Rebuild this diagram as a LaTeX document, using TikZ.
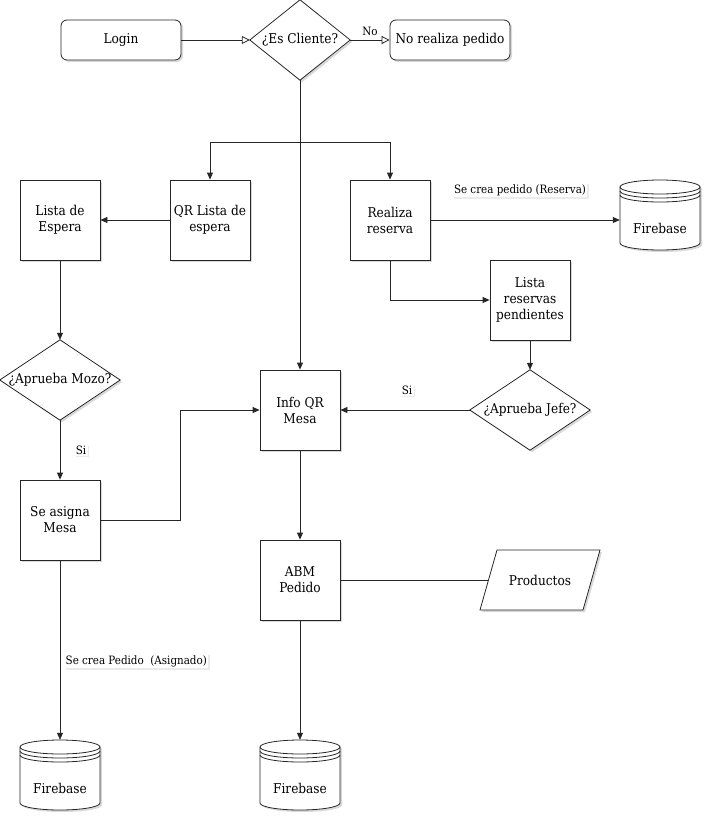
\documentclass[tikz,border=0pt]{standalone}
\usepackage{fontspec}
\IfFontExistsTF{DejaVu Serif Condensed}{\setmainfont{DejaVu Serif Condensed}}{\setmainfont{DejaVu Serif}}
\usetikzlibrary{arrows.meta,shadows,calc}
\pgfdeclarelayer{background}
\pgfsetlayers{background,main}
\tikzset{
  ln/.style={line width=0.8pt, draw=black!85},
  shadowed/.style={drop shadow={shadow xshift=2pt, shadow yshift=-2pt, fill=black, opacity=0.15}},
  box/.style={ln, fill=white, minimum width=80pt, minimum height=80pt, align=center, inner sep=1pt, shadowed},
  rbox/.style={box, rounded corners=6pt, minimum width=120pt, minimum height=40pt},
  dmdbox/.style={draw=none, inner sep=0pt, minimum height=80pt, align=center},
  dbbox/.style={draw=none, inner sep=0pt, minimum width=80pt, minimum height=70pt},
  conn/.style={ln, -{Triangle[length=7pt,width=6pt]}},
  openconn/.style={ln, -{Triangle[open,length=8pt,width=8pt]}},
  plain/.style={ln},
  lbl/.style={font=\fontsize{11.5}{13}\selectfont, fill=white, inner sep=1.5pt},
  lblsh/.style={lbl, drop shadow={shadow xshift=1.5pt, shadow yshift=-1.5pt, fill=black, opacity=0.08}}
}
\newcommand\mydiam[1]{%
  \begin{pgfonlayer}{background}
  \fill[black, opacity=0.15] ($(#1.north)+(2,2)$) -- ($(#1.east)+(2,2)$) -- ($(#1.south)+(2,2)$) -- ($(#1.west)+(2,2)$) -- cycle;
  \draw[ln, fill=white] (#1.north) -- (#1.east) -- (#1.south) -- (#1.west) -- cycle;
  \end{pgfonlayer}}
\newcommand\fbase[3]{%
  \begin{scope}[shift={(#2,#3)}]
    \fill[black, opacity=0.15, shift={(2,2)}] (-40,-28) -- (-40,28) arc[start angle=180, end angle=360, x radius=40pt, y radius=7pt] -- (40,-28) arc[start angle=0, end angle=180, x radius=40pt, y radius=7pt] -- cycle;
    \draw[ln, fill=white] (-40,-28) -- (-40,28) arc[start angle=180, end angle=360, x radius=40pt, y radius=7pt] -- (40,-28) arc[start angle=0, end angle=180, x radius=40pt, y radius=7pt] -- cycle;
    \draw[ln] (-40,-28) arc[start angle=180, end angle=360, x radius=40pt, y radius=7pt];
    \draw[ln] (-40,-24) arc[start angle=180, end angle=360, x radius=40pt, y radius=7pt];
    \draw[ln] (-40,-20) arc[start angle=180, end angle=360, x radius=40pt, y radius=7pt];
  \end{scope}
  \node[dbbox] (#1) at (#2,#3) {};
  \node (#1t) at (#2,#3+13) {Firebase};}
\begin{document}
\begin{tikzpicture}[x=1pt, y=-1pt, font=\fontsize{13.5}{16}\selectfont]
\useasboundingbox (0,0) rectangle (712,822);

% nodes
\node[rbox] (login) at (121,40) {Login};
\node[dmdbox, minimum width=100pt] (esc) at (300,40) {¿Es Cliente?};
\mydiam{esc}
\node[rbox] (nrp) at (450,40) {No realiza pedido};
\node[box] (lesp) at (60,220) {Lista de\\Espera};
\node[box] (qr) at (210,220) {QR Lista de\\espera};
\node[box] (rr) at (390,220) {Realiza\\reserva};
\fbase{fb1}{660}{215}
\node[box] (lrp) at (530,300) {Lista\\reservas\\pendientes};
\node[dmdbox, minimum width=120pt] (mozo) at (60,380) {¿Aprueba Mozo?};
\mydiam{mozo}
\node[box] (info) at (300,410) {Info QR\\Mesa};
\node[dmdbox, minimum width=120pt] (jefe) at (530,410) {¿Aprueba Jefe?};
\mydiam{jefe}
\node[box] (asig) at (60,520) {Se asigna\\Mesa};
\node[box] (abm) at (300,580) {ABM\\Pedido};
\fill[black, opacity=0.15, shift={(2,2)}] (480,610) -- (497,550) -- (600,550) -- (583,610) -- cycle;
\draw[ln, fill=white] (480,610) -- (497,550) -- (600,550) -- (583,610) -- cycle;
\node[draw=none, minimum width=103pt, minimum height=60pt, inner sep=0pt] (prod) at (540,580) {Productos};
\fbase{fb2}{60}{775}
\fbase{fb3}{300}{775}

% connectors
\draw[openconn] (login.east) -- (esc.west);
\draw[openconn] (esc.east) -- (nrp.west);
\node[lbl, fill=none] (lno) at (370,31) {No};
\coordinate (br) at (300,142);
\draw[conn] (esc.south) -- (info.north);
\draw[conn] (br) -| (qr.north);
\draw[conn] (br) -| (rr.north);
\draw[conn] (qr.west) -- (lesp.east);
\draw[conn] (rr.east) -- (rr.east -| fb1.west);
\node[lblsh] (lres) at (520,190) {Se crea pedido (Reserva)};
\draw[conn] (rr.south) |- (lrp.west);
\draw[conn] (lrp.south) -- (jefe.north);
\draw[conn] (jefe.west) -- (info.east);
\node[lblsh] (lsi1) at (407,390) {Si};
\draw[conn] (lesp.south) -- (mozo.north);
\draw[conn] (mozo.south) -- (asig.north);
\node[lblsh] (lsi2) at (81,450) {Si};
\draw[conn] (asig.east) -- ++(80,0) |- (info.west);
\draw[conn] (info.south) -- (abm.north);
\draw[plain] (abm.east) -- (prod.west);
\draw[conn] (abm.south) -- (fb3.north);
\draw[conn] (asig.south) -- (fb2.north);
\node[lblsh, anchor=west] (lasig) at (64,661) {Se crea Pedido\ \ (Asignado)};
\end{tikzpicture}
\end{document}
